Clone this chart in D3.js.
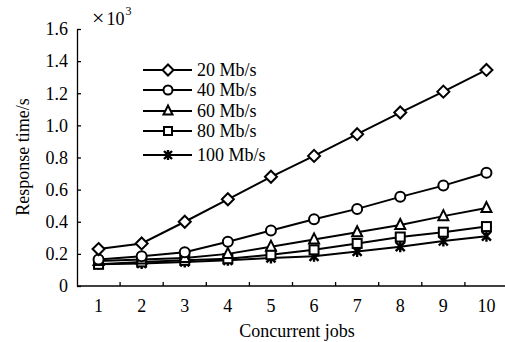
<!DOCTYPE html>
<html>
<head>
<meta charset="utf-8">
<script src="https://cdn.jsdelivr.net/npm/d3@7"></script>
<style>
  body { margin: 0; background: #fff; }
</style>
</head>
<body>
<div id="chart"></div>
<script>
// Concurrent jobs on the x axis
var jobs = [1, 2, 3, 4, 5, 6, 7, 8, 9, 10];
var yTicks = [0, 0.2, 0.4, 0.6, 0.8, 1.0, 1.2, 1.4, 1.6];

// Response time (x10^3 s), one array per bandwidth
var rate20 = [0.23, 0.265, 0.40, 0.54, 0.68, 0.81, 0.945, 1.08, 1.21, 1.345];
var rate40 = [0.165, 0.185, 0.21, 0.275, 0.345, 0.415, 0.48, 0.555, 0.625, 0.705];
var rate60 = [0.155, 0.165, 0.175, 0.20, 0.245, 0.29, 0.335, 0.38, 0.435, 0.485];
var rate80 = [0.135, 0.15, 0.16, 0.17, 0.195, 0.225, 0.265, 0.305, 0.335, 0.37];
var rate100 = [0.135, 0.14, 0.15, 0.16, 0.175, 0.185, 0.215, 0.245, 0.28, 0.31];

var seriesNames = ["20 Mb/s", "40 Mb/s", "60 Mb/s", "80 Mb/s", "100 Mb/s"];
var seriesValues = [rate20, rate40, rate60, rate80, rate100];
var seriesMarkers = ["diamond", "circle", "triangle", "square", "asterisk"];

var width = 505, height = 342;
var margin = {left: 77, top: 29, right: -3, bottom: 56};
var serif = "Liberation Serif, Times New Roman, serif";

var svg = d3.select("#chart").append("svg")
    .attr("width", width)
    .attr("height", height)
    .attr("font-family", serif)
    .attr("font-size", 18);

var x = d3.scaleBand()
    .domain(jobs)
    .range([margin.left, width - margin.right]);

var y = d3.scaleLinear()
    .domain([0, 1.6])
    .range([height - margin.bottom, margin.top]);

// x axis: ticks sit between categories and point inward
var x0 = y(0);
svg.append("line")
    .attr("x1", margin.left).attr("x2", width)
    .attr("y1", x0).attr("y2", x0)
    .attr("stroke", "#000").attr("stroke-width", 1.3);

svg.append("g").selectAll("line")
  .data(jobs.slice(1))
  .enter().append("line")
    .attr("x1", function(d) { return x(d); })
    .attr("x2", function(d) { return x(d); })
    .attr("y1", x0).attr("y2", x0 - 4)
    .attr("stroke", "#000").attr("stroke-width", 1.3);

svg.append("g").selectAll("text")
  .data(jobs)
  .enter().append("text")
    .attr("x", function(d) { return x(d) + x.bandwidth() / 2; })
    .attr("y", 312)
    .attr("text-anchor", "middle")
    .text(function(d) { return d; });

// y axis
var yAxis = d3.axisLeft(y)
    .tickValues(yTicks)
    .tickSizeInner(-4)
    .tickSizeOuter(0)
    .tickPadding(9)
    .tickFormat(function(d) { return d === 0 ? "0" : d.toFixed(1); });

var gy = svg.append("g")
    .attr("transform", "translate(" + margin.left + ",0)")
    .call(yAxis)
    .attr("font-family", serif)
    .attr("font-size", 18);
gy.select(".domain").attr("stroke", "#000").attr("stroke-width", 1.3);
gy.selectAll(".tick line").attr("stroke", "#000").attr("stroke-width", 1.3);

// scale factor label
var mult = svg.append("text")
    .attr("x", 92).attr("y", 25);
mult.append("tspan").attr("font-size", 22).text("\u00d7");
mult.append("tspan").attr("dx", 2).text("10");
mult.append("tspan").attr("dy", -10).attr("dx", 1).attr("font-size", 12).text("3");

// axis titles
svg.append("text")
    .attr("x", 297).attr("y", 337)
    .attr("text-anchor", "middle")
    .text("Concurrent jobs");

svg.append("text")
    .attr("transform", "translate(29,157) rotate(-90)")
    .attr("text-anchor", "middle")
    .text("Response time/s");

// marker drawing
function drawMarker(g, type, size) {
  var s = size / 2;
  if (type === "diamond") {
    g.append("path").attr("d", "M0," + (-s - 1) + "L" + (s + 1) + ",0L0," + (s + 1) + "L" + (-s - 1) + ",0Z");
  } else if (type === "circle") {
    g.append("circle").attr("r", s);
  } else if (type === "triangle") {
    g.append("path").attr("d", "M0," + (-s - 1) + "L" + s + "," + (s - 1) + "L" + (-s) + "," + (s - 1) + "Z");
  } else if (type === "square") {
    g.append("rect").attr("x", -s + 0.5).attr("y", -s + 0.5).attr("width", size - 1).attr("height", size - 1);
  } else {
    var a = s - 0.5;
    g.append("path")
      .attr("d", "M" + (-a) + "," + (-a) + "L" + a + "," + a + "M" + (-a) + "," + a + "L" + a + "," + (-a) + "M0," + (-a - 1) + "L0," + (a + 1))
      .attr("stroke-width", 2.4);
  }
  g.selectAll("*").attr("fill", "#fff").attr("stroke", "#000")
    .filter(function() { return !this.getAttribute("stroke-width"); })
    .attr("stroke-width", 2);
}

var line = d3.line()
    .x(function(d, i) { return x(jobs[i]) + x.bandwidth() / 2; })
    .y(function(d) { return y(d); });

// draw from the bottom series up so the top lines stay on top
for (var k = seriesValues.length - 1; k >= 0; k--) {
  var vals = seriesValues[k];
  svg.append("path")
      .datum(vals)
      .attr("fill", "none")
      .attr("stroke", "#000")
      .attr("stroke-width", 2)
      .attr("d", line);

  vals.forEach(function(v, i) {
    var g = svg.append("g")
        .attr("transform", "translate(" + (x(jobs[i]) + x.bandwidth() / 2) + "," + y(v) + ")");
    drawMarker(g, seriesMarkers[k], 10);
  });
}

// legend
var legendY = [70, 90, 111, 131, 155];
seriesNames.forEach(function(name, i) {
  var ly = legendY[i];
  svg.append("line")
      .attr("x1", 143).attr("x2", 192)
      .attr("y1", ly).attr("y2", ly)
      .attr("stroke", "#000").attr("stroke-width", 2);
  var g = svg.append("g").attr("transform", "translate(168," + ly + ")");
  drawMarker(g, seriesMarkers[i], 9);
  svg.append("text")
      .attr("x", 197).attr("y", ly + 6)
      .text(name);
});
</script>
</body>
</html>
